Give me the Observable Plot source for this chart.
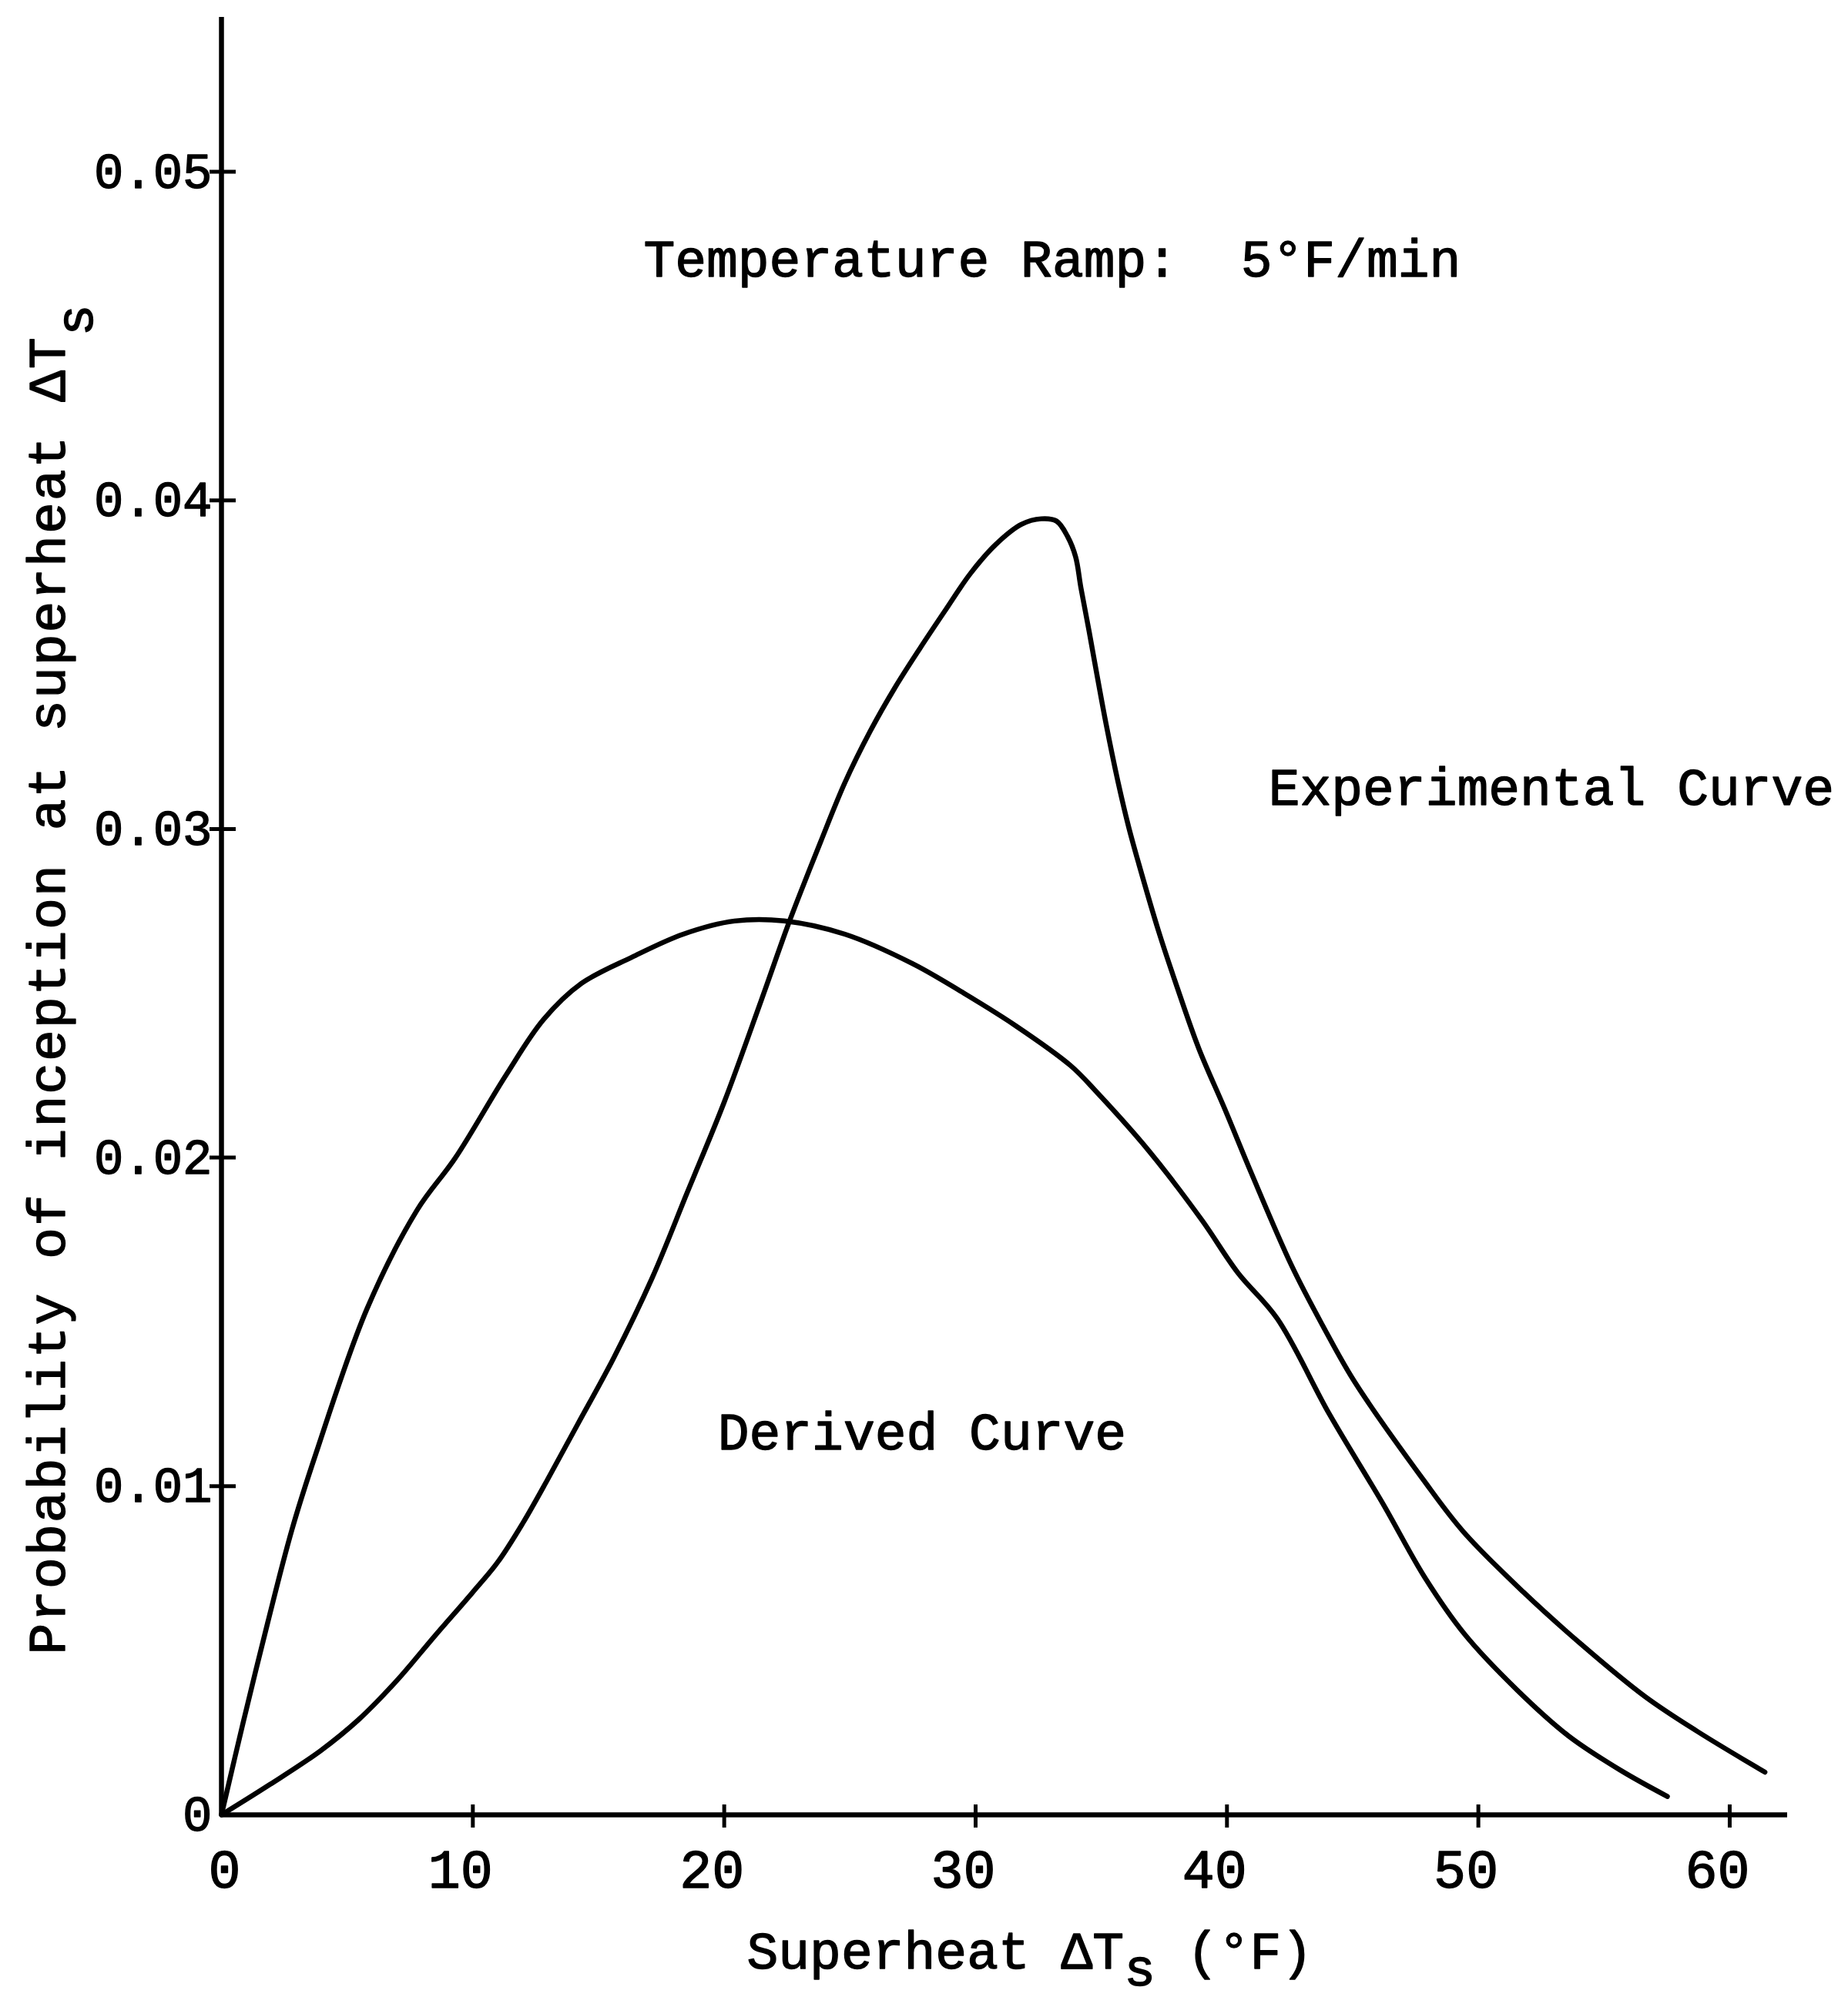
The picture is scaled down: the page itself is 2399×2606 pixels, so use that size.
<!DOCTYPE html>
<html>
<head>
<meta charset="utf-8">
<script src="https://cdn.jsdelivr.net/npm/d3@7"></script>
<script src="https://cdn.jsdelivr.net/npm/@observablehq/plot@0.6"></script>
<style>
  html, body { margin: 0; padding: 0; background: #fff; }
  #chart svg { display: block; }
</style>
</head>
<body>
<div id="chart"></div>
<script>
// ---- data ----
const xTicks = [0, 10, 20, 30, 40, 50, 60];
const yTicks = [0, 0.01, 0.02, 0.03, 0.04, 0.05];
const yTickLabels = ["0", "0.01", "0.02", "0.03", "0.04", "0.05"];

// Derived Curve (superheat °F, probability)
const derivedX = [0, 0.86, 1.84, 2.80, 3.76, 5.79, 7.78, 9.31, 11.31, 12.81, 14.32, 16.33, 18.37, 20.41, 22.44, 24.8, 27.5, 29.54, 31.62, 33.78, 34.81, 36.9, 39.0, 40.43, 42.0, 44.07, 46.18, 47.89, 49.45, 51.54, 53.59, 55.67, 57.52];
const derivedY = [0, 0.0028, 0.00585, 0.00867, 0.0110, 0.0154, 0.0184, 0.0200, 0.0225, 0.0242, 0.0253, 0.0261, 0.0268, 0.0272, 0.0272, 0.0268, 0.0259, 0.0250, 0.0240, 0.0228, 0.0220, 0.0202, 0.0181, 0.0165, 0.0151, 0.0122, 0.0095, 0.0072, 0.0055, 0.0038, 0.0024, 0.00135, 0.00056];

// Experimental Curve
const experimentalX = [0, 1.94, 3.94, 5.46, 6.97, 8.47, 9.98, 11.0, 11.99, 12.97, 14.16, 15.6, 17.14, 18.53, 20.0, 21.48, 22.55, 23.18, 23.83, 24.8, 25.81, 26.79, 27.78, 28.8, 29.79, 30.79, 31.82, 32.61, 33.22, 33.66, 33.98, 34.19, 34.52, 34.85, 35.19, 35.65, 36.08, 36.5, 37.28, 38.02, 38.88, 39.93, 40.98, 42.58, 43.8, 45.06, 47.82, 49.39, 51.79, 54.05, 56.63, 58.71, 61.4];
const experimentalY = [0, 0.00093, 0.00195, 0.0029, 0.00408, 0.00543, 0.00676, 0.0077, 0.00888, 0.0102, 0.01187, 0.0139, 0.01635, 0.01894, 0.02169, 0.0248, 0.0271, 0.02835, 0.0296, 0.03141, 0.03298, 0.0343, 0.03549, 0.03666, 0.03777, 0.03865, 0.03927, 0.03944, 0.03937, 0.0389, 0.03828, 0.03734, 0.036, 0.0346, 0.0332, 0.03149, 0.03009, 0.02892, 0.02689, 0.02518, 0.02332, 0.02145, 0.01951, 0.0167, 0.0149, 0.0132, 0.01019, 0.00863, 0.00678, 0.00522, 0.0036, 0.00254, 0.0013];

// annotations
const noteText = ["Temperature Ramp:\u00a0\u00a05°F/min", "Experimental Curve", "Derived Curve"];
const noteX = [16.79, 41.65, 19.74];
const noteY = [0.04682, 0.03074, 0.01111];

const xLabelMain = "Superheat ΔT", xLabelSub = "s", xLabelRest = "\u00a0(°F)";
const yLabelMain = "Probability of inception at superheat ΔT", yLabelSub = "s";

// ---- tables ----
const derived = derivedX.map((x, i) => ({x, y: derivedY[i]}));
const experimental = experimentalX.map((x, i) => ({x, y: experimentalY[i]}));

const FONT = "Liberation Mono, DejaVu Sans Mono, monospace";
const INK = "#000";
const TEXT_STROKE = 1.4;
const xTickText = {tickSize: 0, tickPadding: 45, fontSize: 70, fill: INK, label: null,
  textStroke: INK, textStrokeWidth: TEXT_STROKE, tickFormat: d => String(d)};

const chart = Plot.plot({
  width: 2399,
  height: 2606,
  marginLeft: 287,
  marginRight: 79,
  marginTop: 22,
  marginBottom: 250,
  style: {background: "#fff", color: INK, fontFamily: FONT},
  x: {domain: [0, 62.3]},
  y: {domain: [0, 0.0547]},
  marks: [
    // axis lines
    Plot.ruleY([0], {stroke: INK, strokeWidth: 6.5}),
    Plot.ruleX([0], {stroke: INK, strokeWidth: 6.5}),
    // tick marks crossing the axes
    Plot.axisX(xTicks.slice(1), {tickSize: 30, dy: -13, fill: "none", stroke: INK, strokeWidth: 5, label: null}),
    Plot.axisY(yTicks.slice(1), {tickSize: 34, dx: 19, fill: "none", stroke: INK, strokeWidth: 5, label: null}),
    // tick labels
    Plot.axisX(xTicks.slice(1), {...xTickText, dx: -16}),
    Plot.axisX(xTicks.slice(0, 1), {...xTickText, dx: 4}),
    Plot.axisY(yTicks, {tickSize: 0, tickPadding: 12, fontSize: 64, fill: INK, label: null,
      textStroke: INK, textStrokeWidth: TEXT_STROKE, tickFormat: d => yTickLabels[yTicks.indexOf(d)]}),
    // curves
    Plot.line(derived, {x: "x", y: "y", curve: "catmull-rom", stroke: INK, strokeWidth: 6.5, strokeLinecap: "round", strokeLinejoin: "round"}),
    Plot.line(experimental, {x: "x", y: "y", curve: "catmull-rom", stroke: INK, strokeWidth: 6.5, strokeLinecap: "round", strokeLinejoin: "round"}),
    // annotations
    Plot.text(noteText, {x: (d, i) => noteX[i], y: (d, i) => noteY[i], text: d => d, textAnchor: "start", lineAnchor: "bottom",
      fontSize: 68, fill: INK, stroke: INK, strokeWidth: TEXT_STROKE}),
    // axis titles
    Plot.text([xLabelMain], {text: d => d, frameAnchor: "bottom-left", textAnchor: "start", lineAnchor: "bottom", dx: 682, dy: 199,
      fontSize: 68, fill: INK, stroke: INK, strokeWidth: TEXT_STROKE}),
    Plot.text([yLabelMain], {text: d => d, frameAnchor: "bottom-left", textAnchor: "start", lineAnchor: "bottom", rotate: -90, dx: -204, dy: -208,
      fontSize: 68, fill: INK, stroke: INK, strokeWidth: TEXT_STROKE})
  ]
});

document.getElementById("chart").appendChild(chart);

// subscripts on the axis titles
d3.select(chart).selectAll("text").each(function () {
  const t = d3.select(this);
  const s = this.textContent;
  if (s === xLabelMain) {
    t.text(null);
    t.append("tspan").text(xLabelMain);
    t.append("tspan").attr("dy", 22).text(xLabelSub);
    t.append("tspan").attr("dy", -22).text(xLabelRest);
  } else if (s === yLabelMain) {
    t.text(null).attr("letter-spacing", 2);
    t.append("tspan").text(yLabelMain);
    t.append("tspan").attr("dy", 36).text(yLabelSub);
  }
});
</script>
</body>
</html>
